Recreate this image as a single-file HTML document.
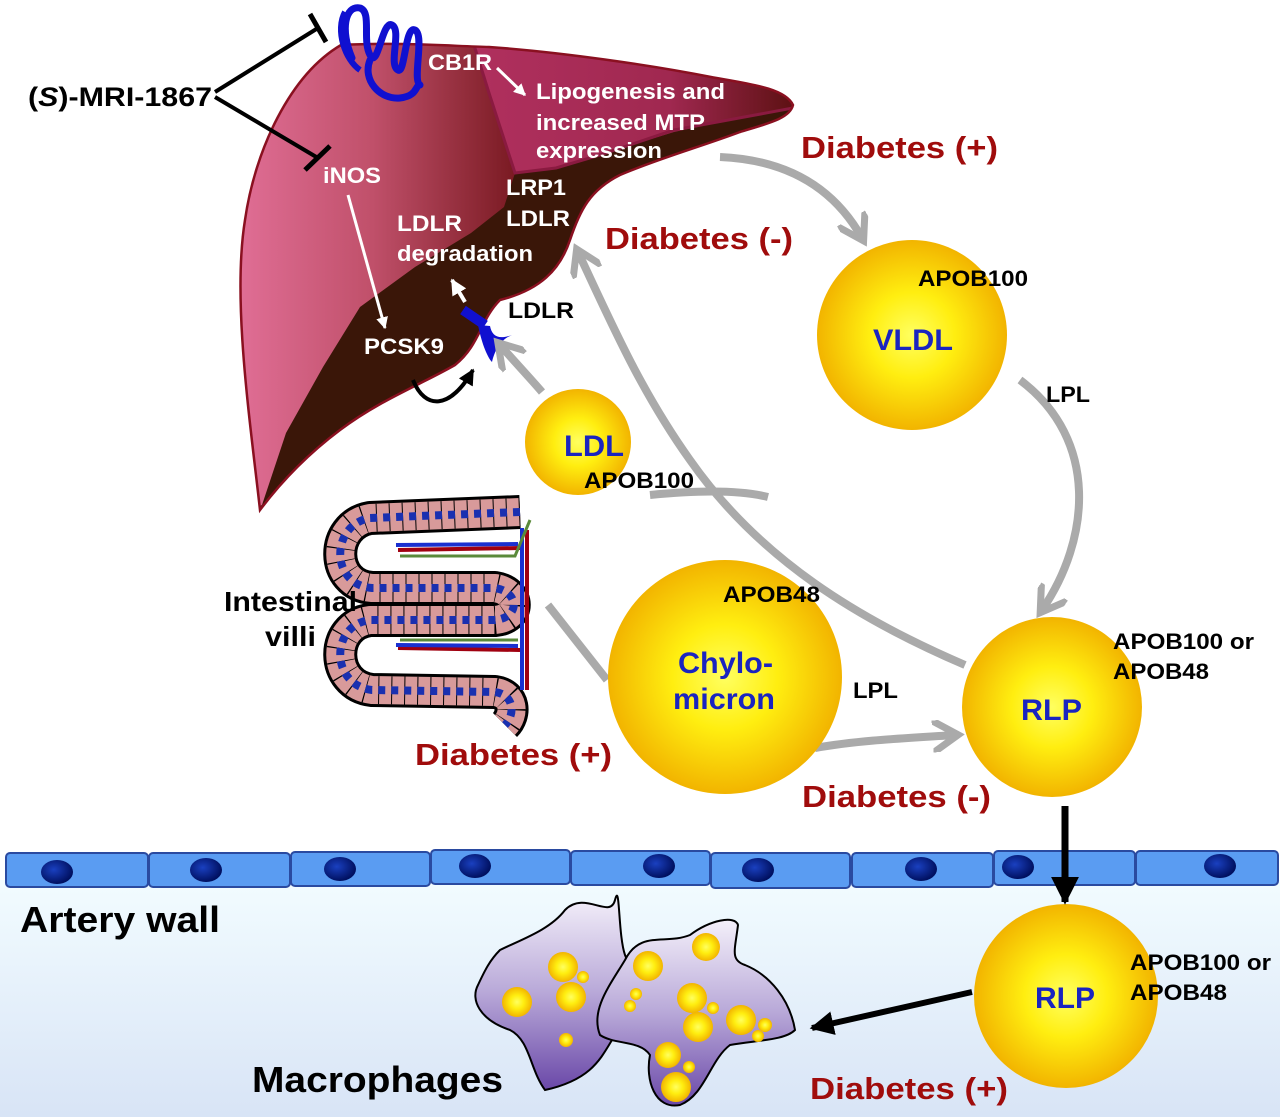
<!DOCTYPE html>
<html><head><meta charset="utf-8"><style>
html,body{margin:0;padding:0;background:#fff}
svg{display:block}
text{font-family:"Liberation Sans",Arial,sans-serif;font-weight:bold}
</style></head><body>
<svg width="1280" height="1117" viewBox="0 0 1280 1117" xmlns="http://www.w3.org/2000/svg">
<defs>
<linearGradient id="bg" x1="0" y1="0" x2="0" y2="1"><stop offset="0" stop-color="#f2fcff"/><stop offset="1" stop-color="#d8e4f6"/></linearGradient>
<radialGradient id="ball" cx="0.5" cy="0.5" r="0.5"><stop offset="0" stop-color="#ffff60"/><stop offset="0.45" stop-color="#ffee10"/><stop offset="1" stop-color="#f2b400"/></radialGradient>
<linearGradient id="pink" x1="0" y1="0" x2="1" y2="0"><stop offset="0" stop-color="#e27098"/><stop offset="0.5" stop-color="#c0506a"/><stop offset="1" stop-color="#7a1a22"/></linearGradient>
<linearGradient id="lobe" x1="0" y1="0" x2="1" y2="0"><stop offset="0" stop-color="#b0305e"/><stop offset="0.6" stop-color="#a02850"/><stop offset="1" stop-color="#5a1010"/></linearGradient>
<linearGradient id="mac" x1="0" y1="0" x2="0" y2="1"><stop offset="0" stop-color="#f4f0fa"/><stop offset="0.5" stop-color="#b8a8d8"/><stop offset="1" stop-color="#6a48a8"/></linearGradient>
<radialGradient id="nuc" cx="0.4" cy="0.4" r="0.6"><stop offset="0" stop-color="#1a40c0"/><stop offset="1" stop-color="#001060"/></radialGradient>
<marker id="ga" viewBox="0 0 10 10" refX="7" refY="5" markerWidth="4" markerHeight="4" orient="auto"><path d="M0,0 L8,5 L0,10" fill="none" stroke="#aaa" stroke-width="2.2"/></marker>
<marker id="ba" viewBox="0 0 10 10" refX="9" refY="5" markerWidth="4" markerHeight="4" orient="auto"><path d="M0,0 L10,5 L0,10 z" fill="#000"/></marker>
<marker id="wa" viewBox="0 0 10 10" refX="9" refY="5" markerWidth="4" markerHeight="4" orient="auto"><path d="M0,0 L10,5 L0,10 z" fill="#fff"/></marker>
<clipPath id="liv"><path id="livp" d="M260,510 C250,420 232,300 245,220 C255,150 290,75 341,45 C400,42 450,46 489,47 C560,52 650,65 711,77 C750,84 785,88 793,105 C790,118 770,123 740,132 C700,147 660,158 620,175 C590,190 580,210 570,240 C560,270 540,290 500,300 C480,320 480,345 455,365 C420,385 380,400 340,430 C300,460 275,490 260,510 Z"/></clipPath>
</defs>

<rect x="0" y="880" width="1280" height="237" fill="url(#bg)"/>

<g clip-path="url(#liv)">
<rect x="230" y="40" width="580" height="480" fill="#3a1608"/>
<path d="M230,40 L474,40 L489,93 L515,173 L504,207 L471,233 L415,267 L360,307 L323,367 L286,433 L262,505 L230,520 Z" fill="url(#pink)"/>
<path d="M474,40 L800,40 L800,108 L740,118 L674,132 L600,155 L556,168 L515,173 L489,93 Z" fill="url(#lobe)"/>
<path d="M474,45 L489,93 L515,173 L556,168 L600,155 L674,130 L793,108" fill="none" stroke="#8a1a40" stroke-width="3"/>
</g>
<use href="#livp" fill="none" stroke="#8a1020" stroke-width="2.5"/>

<path d="M352,58 C340,30 345,5 360,8 C372,12 362,40 370,55 C378,70 382,20 392,25 C402,30 388,65 398,70 C405,75 405,25 415,30 C425,35 412,80 420,85 M370,60 C362,80 380,100 400,98 C418,96 415,85 420,85" fill="none" stroke="#1010d0" stroke-width="7" stroke-linecap="round"/>
<path d="M345,12 C335,30 345,60 360,70" fill="none" stroke="#1010d0" stroke-width="6"/>

<path d="M215,92 L318,28 M215,97 L318,158" stroke="#000" stroke-width="4" fill="none"/>
<path d="M310,14 L326,42 M305,170 L330,146" stroke="#000" stroke-width="5"/>
<text x="28" y="106" font-size="27" fill="#000" textLength="184" lengthAdjust="spacingAndGlyphs">(<tspan font-style="italic">S</tspan>)-MRI-1867</text>

<line x1="497" y1="68" x2="525" y2="95" stroke="#fff" stroke-width="3" marker-end="url(#wa)"/>
<line x1="348" y1="195" x2="385" y2="328" stroke="#fff" stroke-width="3" marker-end="url(#wa)"/>
<line x1="465" y1="302" x2="452" y2="280" stroke="#fff" stroke-width="4" marker-end="url(#wa)"/>
<path d="M463,310 L485,325" stroke="#1010d0" stroke-width="10"/>
<path d="M478,325 C482,345 488,358 492,362 C495,350 500,340 512,335 C498,340 492,336 490,326 Z" fill="#1010d0"/>
<path d="M413,380 C425,410 450,410 473,370" fill="none" stroke="#000" stroke-width="4" marker-end="url(#ba)"/>

<g fill="#fff" font-size="22" lengthAdjust="spacingAndGlyphs">
<text x="428" y="70" textLength="64" lengthAdjust="spacingAndGlyphs">CB1R</text>
<text x="536" y="99" textLength="189" lengthAdjust="spacingAndGlyphs">Lipogenesis and</text>
<text x="536" y="130" textLength="169" lengthAdjust="spacingAndGlyphs">increased MTP</text>
<text x="536" y="158" textLength="126" lengthAdjust="spacingAndGlyphs">expression</text>
<text x="323" y="183" textLength="58" lengthAdjust="spacingAndGlyphs">iNOS</text>
<text x="506" y="195" textLength="60" lengthAdjust="spacingAndGlyphs">LRP1</text>
<text x="506" y="226" textLength="64" lengthAdjust="spacingAndGlyphs">LDLR</text>
<text x="397" y="231" textLength="65" lengthAdjust="spacingAndGlyphs">LDLR</text>
<text x="397" y="261" textLength="136" lengthAdjust="spacingAndGlyphs">degradation</text>
<text x="364" y="354" textLength="80" lengthAdjust="spacingAndGlyphs">PCSK9</text>
</g>
<text x="508" y="318" font-size="22" fill="#000" textLength="66" lengthAdjust="spacingAndGlyphs">LDLR</text>

<g fill="none" stroke="#aaa" stroke-width="8">
<path d="M720,157 C790,160 835,190 862,238" marker-end="url(#ga)"/>
<path d="M1020,380 C1100,440 1090,540 1042,610" marker-end="url(#ga)"/>
<path d="M815,748 C860,740 910,738 955,735" marker-end="url(#ga)"/>
<path d="M607,680 L548,605"/>
<path d="M965,665 C860,620 760,560 690,460 C640,390 610,320 578,252" marker-end="url(#ga)"/>
<path d="M768,497 C740,490 700,490 650,495"/>
<path d="M542,392 C530,378 515,362 500,345" marker-end="url(#ga)"/>
</g>

<circle cx="912" cy="335" r="95" fill="url(#ball)"/>
<circle cx="578" cy="442" r="53" fill="url(#ball)"/>
<circle cx="725" cy="677" r="117" fill="url(#ball)"/>
<circle cx="1052" cy="707" r="90" fill="url(#ball)"/>
<circle cx="1066" cy="996" r="92" fill="url(#ball)"/>

<g fill="#1a24c0" font-size="30">
<text x="873" y="350" textLength="80" lengthAdjust="spacingAndGlyphs">VLDL</text>
<text x="564" y="456" textLength="60" lengthAdjust="spacingAndGlyphs">LDL</text>
<text x="678" y="673" textLength="95" lengthAdjust="spacingAndGlyphs">Chylo-</text>
<text x="673" y="709" textLength="102" lengthAdjust="spacingAndGlyphs">micron</text>
<text x="1021" y="720" textLength="61" lengthAdjust="spacingAndGlyphs">RLP</text>
<text x="1035" y="1008" textLength="60" lengthAdjust="spacingAndGlyphs">RLP</text>
</g>
<g fill="#000" font-size="22">
<text x="918" y="286" textLength="110" lengthAdjust="spacingAndGlyphs">APOB100</text>
<text x="584" y="488" textLength="110" lengthAdjust="spacingAndGlyphs">APOB100</text>
<text x="723" y="602" textLength="97" lengthAdjust="spacingAndGlyphs">APOB48</text>
<text x="1046" y="402" textLength="44" lengthAdjust="spacingAndGlyphs">LPL</text>
<text x="853" y="698" textLength="45" lengthAdjust="spacingAndGlyphs">LPL</text>
<text x="1113" y="649" textLength="141" lengthAdjust="spacingAndGlyphs">APOB100 or</text>
<text x="1113" y="679" textLength="96" lengthAdjust="spacingAndGlyphs">APOB48</text>
<text x="1130" y="970" textLength="141" lengthAdjust="spacingAndGlyphs">APOB100 or</text>
<text x="1130" y="1000" textLength="97" lengthAdjust="spacingAndGlyphs">APOB48</text>
</g>
<g fill="#a00c0c" font-size="31">
<text x="801" y="158" textLength="197" lengthAdjust="spacingAndGlyphs">Diabetes (+)</text>
<text x="605" y="249" textLength="188" lengthAdjust="spacingAndGlyphs">Diabetes (-)</text>
<text x="415" y="765" textLength="197" lengthAdjust="spacingAndGlyphs">Diabetes (+)</text>
<text x="802" y="807" textLength="189" lengthAdjust="spacingAndGlyphs">Diabetes (-)</text>
<text x="810" y="1099" textLength="198" lengthAdjust="spacingAndGlyphs">Diabetes (+)</text>
</g>

<g>
<path d="M520,512 L370,518 C330,525 330,585 372,588 L495,588 C520,592 520,618 495,620 L370,620 C330,625 330,685 372,690 L495,692 C515,695 515,715 505,725" fill="none" stroke="#000" stroke-width="34" stroke-linejoin="round"/>
<path d="M520,512 L370,518 C330,525 330,585 372,588 L495,588 C520,592 520,618 495,620 L370,620 C330,625 330,685 372,690 L495,692 C515,695 515,715 505,725" fill="none" stroke="#d89a9a" stroke-width="28" stroke-linejoin="round"/>
<path d="M520,512 L370,518 C330,525 330,585 372,588 L495,588 C520,592 520,618 495,620 L370,620 C330,625 330,685 372,690 L495,692 C515,695 515,715 505,725" fill="none" stroke="#000" stroke-width="28" stroke-dasharray="1 12" stroke-linejoin="round"/>
<path d="M520,512 L370,518 C330,525 330,585 372,588 L495,588 C520,592 520,618 495,620 L370,620 C330,625 330,685 372,690 L495,692 C515,695 515,715 505,725" fill="none" stroke="#1a30b0" stroke-width="8" stroke-dasharray="7 6" stroke-linejoin="round"/>
<path d="M398,550 L520,548 M398,648 L520,650 M527,530 L527,690" stroke="#a00010" stroke-width="4" fill="none"/>
<path d="M396,545 L518,544 M396,645 L518,646 M522,528 L522,690" stroke="#1a30d0" stroke-width="4" fill="none"/>
<path d="M400,556 L515,556 L530,520 M400,640 L518,640" stroke="#5a8a3a" stroke-width="3" fill="none"/>
</g>
<text x="224" y="611" font-size="28" fill="#000" textLength="133" lengthAdjust="spacingAndGlyphs">Intestinal</text>
<text x="265" y="646" font-size="28" fill="#000" textLength="51" lengthAdjust="spacingAndGlyphs">villi</text>

<g stroke="#2a4aa0" stroke-width="2" fill="#5a9cf2">
<rect x="6" y="853" width="142" height="34" rx="4"/>
<rect x="149" y="853" width="141" height="34" rx="4"/>
<rect x="291" y="852" width="139" height="34" rx="4"/>
<rect x="431" y="850" width="139" height="34" rx="4"/>
<rect x="571" y="851" width="139" height="34" rx="4"/>
<rect x="711" y="853" width="139" height="35" rx="4"/>
<rect x="852" y="853" width="141" height="34" rx="4"/>
<rect x="994" y="851" width="141" height="34" rx="4"/>
<rect x="1136" y="851" width="142" height="34" rx="4"/>
</g>
<g fill="url(#nuc)">
<ellipse cx="57" cy="872" rx="16" ry="12"/>
<ellipse cx="206" cy="870" rx="16" ry="12"/>
<ellipse cx="340" cy="869" rx="16" ry="12"/>
<ellipse cx="475" cy="866" rx="16" ry="12"/>
<ellipse cx="659" cy="866" rx="16" ry="12"/>
<ellipse cx="758" cy="870" rx="16" ry="12"/>
<ellipse cx="921" cy="869" rx="16" ry="12"/>
<ellipse cx="1018" cy="867" rx="16" ry="12"/>
<ellipse cx="1220" cy="866" rx="16" ry="12"/>
</g>
<text x="20" y="932" font-size="36" fill="#000" textLength="200" lengthAdjust="spacingAndGlyphs">Artery wall</text>

<line x1="1065" y1="806" x2="1065" y2="902" stroke="#000" stroke-width="7" marker-end="url(#ba)"/>
<line x1="972" y1="992" x2="812" y2="1028" stroke="#000" stroke-width="6" marker-end="url(#ba)"/>

<path d="M500,950 C520,940 550,930 565,910 C585,890 610,920 615,900 C620,880 618,935 625,955 C640,985 605,1040 612,1040 C600,1060 590,1080 545,1090 C530,1070 530,1040 510,1030 C480,1020 470,1000 478,985 C485,970 490,960 500,950 Z" fill="url(#mac)" stroke="#000" stroke-width="2"/>
<path d="M625,960 C640,930 665,945 690,935 C710,920 735,915 738,925 C735,950 730,960 745,965 C770,975 790,1000 795,1030 C785,1040 760,1040 730,1045 C710,1060 705,1095 680,1105 C655,1110 645,1080 650,1055 C640,1040 615,1045 600,1035 C590,1010 610,985 625,960 Z" fill="url(#mac)" stroke="#000" stroke-width="2"/>
<g fill="url(#ball)">
<circle cx="563" cy="967" r="15"/><circle cx="517" cy="1002" r="15"/><circle cx="571" cy="997" r="15"/><circle cx="583" cy="977" r="6"/><circle cx="566" cy="1040" r="7"/>
<circle cx="648" cy="966" r="15"/><circle cx="706" cy="947" r="14"/><circle cx="692" cy="998" r="15"/><circle cx="698" cy="1027" r="15"/><circle cx="741" cy="1020" r="15"/><circle cx="668" cy="1055" r="13"/><circle cx="676" cy="1087" r="15"/><circle cx="636" cy="994" r="6"/><circle cx="630" cy="1006" r="6"/><circle cx="713" cy="1008" r="6"/><circle cx="765" cy="1025" r="7"/><circle cx="758" cy="1036" r="6"/><circle cx="689" cy="1067" r="6"/>
</g>
<text x="252" y="1092" font-size="36" fill="#000" textLength="251" lengthAdjust="spacingAndGlyphs">Macrophages</text>
</svg>
</body></html>
